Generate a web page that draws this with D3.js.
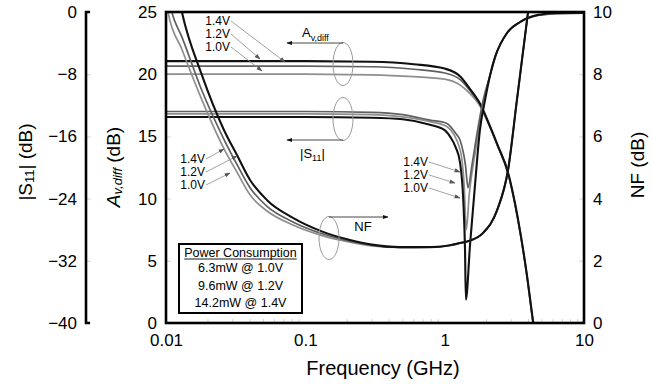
<!DOCTYPE html>
<html><head><meta charset="utf-8">
<script src="https://cdn.jsdelivr.net/npm/d3@7"></script>
<style>
body{margin:0;background:#fff}
svg{display:block}
text{font-family:"Liberation Sans",Arial,Helvetica,sans-serif;fill:#000}
</style>
</head><body>
<svg id="chart" width="652" height="384"></svg>
<script>
// ---- axis ticks and labels ----
const freqTicks = [0.01, 0.1, 1, 10];
const avTicks = [0, 5, 10, 15, 20, 25];
const s11Ticks = [0, -8, -16, -24, -32, -40];
const nfTicks = [0, 2, 4, 6, 8, 10];
const supplyLabels = ["1.4V", "1.2V", "1.0V"];
const powerTitle = "Power Consumption";
const powerRows = ["6.3mW @ 1.0V", "9.6mW @ 1.2V", "14.2mW @ 1.4V"];

// ---- differential voltage gain Av,diff [GHz, dB] ----
const av12 = [[0.01,21.05],[0.1,21.05],[0.3,21.0],[0.6,20.8],[1.0,20.45],[1.3,19.8],[1.5,18.9],[1.8,17.6],[2.1,15.9],[2.4,14.3],[2.85,12.1],[3.2,9.6],[3.5,7.2],[3.9,3.8],[4.3,0.2],[4.6,-2]];
const av14 = [[0.01,20.65],[0.1,20.65],[0.3,20.6],[0.6,20.4],[1.0,20.1],[1.3,19.55],[1.5,18.75],[1.8,17.55],[2.1,15.85],[2.4,14.25],[2.85,12.05],[3.2,9.55],[3.5,7.15],[3.9,3.75],[4.3,0.15],[4.6,-2]];
const av10 = [[0.01,20.0],[0.1,20.0],[0.3,19.95],[0.6,19.8],[1.0,19.6],[1.3,19.1],[1.5,18.5],[1.8,17.4],[2.1,15.8],[2.4,14.2],[2.85,12.0],[3.2,9.5],[3.5,7.1],[3.9,3.7],[4.3,0.1],[4.6,-2]];

// ---- input match |S11| [GHz, dB] ----
const s11_12 = [[0.01,-13.5],[0.1,-13.5],[0.3,-13.6],[0.5,-13.8],[0.785,-14.5],[1.0,-15.2],[1.1,-16.1],[1.2,-17.4],[1.29,-19.4],[1.36,-24.2],[1.40,-30.6],[1.42,-37],[1.52,-30],[1.65,-22.3],[1.79,-15.2],[1.95,-11.3],[2.12,-8.1],[2.3,-5.8],[2.8,-2.7],[3.47,-1.3],[4.6,-0.4],[6.4,-0.13],[10,-0.1]];
const s11_14 = [[0.01,-12.8],[0.1,-12.8],[0.3,-12.9],[0.5,-13.2],[0.785,-13.9],[1.03,-14.3],[1.2,-15.6],[1.29,-16.5],[1.41,-19.7],[1.47,-22.6],[1.57,-19.7],[1.70,-15.8],[1.89,-11.3],[2.12,-8.1],[2.3,-5.8],[2.8,-2.7],[3.47,-1.3],[4.6,-0.45],[6.4,-0.2],[10,-0.15]];
const s11_10 = [[0.01,-13.1],[0.1,-13.1],[0.3,-13.2],[0.5,-13.5],[0.785,-14.1],[1.03,-14.7],[1.29,-17.7],[1.38,-22.3],[1.43,-28],[1.50,-23.5],[1.67,-17.7],[1.89,-12],[2.12,-8.1],[2.3,-5.8],[2.8,-2.7],[3.47,-1.3],[4.6,-0.45],[6.4,-0.2],[10,-0.15]];

// ---- noise figure NF [GHz, dB] ----
const nf12 = [[0.0115,11.2],[0.013,10.0],[0.018,8.0],[0.0261,6.2],[0.0323,5.4],[0.0401,4.6],[0.0531,3.95],[0.0815,3.38],[0.134,2.93],[0.209,2.67],[0.3,2.52],[0.478,2.44],[0.785,2.44],[1.1,2.5],[1.29,2.57],[1.45,2.62],[1.88,2.89],[2.38,3.63],[2.85,4.92],[3.3,7.17],[3.96,9.97],[4.3,11.2]];
const nf14 = [[0.0100,10.9],[0.0110,10.0],[0.013,9.2],[0.018,7.5],[0.0261,5.9],[0.0323,5.1],[0.0401,4.35],[0.0531,3.75],[0.0815,3.25],[0.134,2.86],[0.209,2.63],[0.3,2.5],[0.478,2.43],[0.785,2.44],[1.1,2.5],[1.29,2.57],[1.45,2.62],[1.88,2.89],[2.38,3.63],[2.85,4.92],[3.3,7.17],[3.96,9.97],[4.3,11.2]];
const nf10 = [[0.0100,10.4],[0.01034,10.0],[0.013,8.8],[0.018,7.2],[0.0261,5.6],[0.0323,4.85],[0.0401,4.12],[0.0531,3.6],[0.0815,3.15],[0.134,2.8],[0.209,2.6],[0.3,2.48],[0.478,2.43],[0.785,2.44],[1.1,2.5],[1.29,2.57],[1.45,2.62],[1.88,2.89],[2.38,3.63],[2.85,4.92],[3.3,7.17],[3.96,9.97],[4.3,11.2]];

// ---- layout ----
const W = 652, H = 384;
const plot = {left: 166, right: 584, top: 12, bottom: 323};
const s11AxisX = 86;
const colors = {"1.2V": "#111", "1.4V": "#606060", "1.0V": "#8e8e8e"};

const svg = d3.select("#chart");

const x = d3.scaleLog().domain([0.01, 10]).range([plot.left, plot.right]);
const yAv = d3.scaleLinear().domain([0, 25]).range([plot.bottom, plot.top]);
const yS11 = d3.scaleLinear().domain([-40, 0]).range([plot.bottom, plot.top]);
const yNF = d3.scaleLinear().domain([0, 10]).range([plot.bottom, plot.top]);

// arrowhead markers
const defs = svg.append("defs");
defs.append("clipPath").attr("id", "plotClip").append("rect")
  .attr("x", plot.left).attr("y", plot.top)
  .attr("width", plot.right - plot.left).attr("height", plot.bottom - plot.top);
function marker(id, color, size) {
  defs.append("marker").attr("id", id)
    .attr("viewBox", "0 0 10 10").attr("refX", 9).attr("refY", 5)
    .attr("markerWidth", size).attr("markerHeight", size)
    .attr("markerUnits", "userSpaceOnUse").attr("orient", "auto")
    .append("path").attr("d", "M0,1.5 L10,5 L0,8.5 Z").attr("fill", color);
}
marker("arrGray", "#555", 6);
marker("arrBlack", "#111", 6);

// faint ticks (minor on the frequency axis)
const minor = [];
[0.01, 0.1, 1].forEach(d => { for (let k = 2; k <= 9; k++) minor.push(d * k); });
svg.append("g").selectAll("line").data(minor).join("line")
  .attr("x1", d => x(d)).attr("x2", d => x(d))
  .attr("y1", plot.bottom).attr("y2", plot.bottom - 4)
  .attr("stroke", "#d4d4d4").attr("stroke-width", 1);

// left Av axis
const gAv = svg.append("g").attr("transform", `translate(${plot.left},0)`)
  .call(d3.axisLeft(yAv).tickValues(avTicks).tickSize(-5).tickPadding(9));
// right NF axis
const gNF = svg.append("g").attr("transform", `translate(${plot.right},0)`)
  .call(d3.axisRight(yNF).tickValues(nfTicks).tickSize(-5).tickPadding(9));
// detached S11 axis
const gS11 = svg.append("g").attr("transform", `translate(${s11AxisX},0)`)
  .call(d3.axisLeft(yS11).tickValues(s11Ticks).tickSize(-5).tickPadding(9));
// frequency axis
const gX = svg.append("g").attr("transform", `translate(0,${plot.bottom})`)
  .call(d3.axisBottom(x).tickValues(freqTicks).tickFormat(d => String(d)).tickSize(0).tickPadding(11));

[gAv, gNF, gS11, gX].forEach(g => {
  g.select(".domain").remove();
  g.selectAll(".tick line").attr("stroke", "#d8d8d8").attr("stroke-width", 1);
  g.selectAll(".tick text").attr("font-size", 17).attr("fill", "#000")
    .attr("font-family", "'Liberation Sans', Arial, sans-serif");
});

// S11 axis spine with end caps
svg.append("path")
  .attr("d", `M${s11AxisX + 4},${plot.top} H${s11AxisX} V${plot.bottom} H${s11AxisX + 4}`)
  .attr("fill", "none").attr("stroke", "#000").attr("stroke-width", 2.6);

// curves
const lineOf = scaleY => d3.line()
  .x(d => x(d[0])).y(d => scaleY(d[1]))
  .curve(d3.curveMonotoneX);

const curves = [
  {data: av10, y: yAv, v: "1.0V"}, {data: av14, y: yAv, v: "1.4V"}, {data: av12, y: yAv, v: "1.2V"},
  {data: s11_10, y: yS11, v: "1.0V"}, {data: s11_14, y: yS11, v: "1.4V"}, {data: s11_12, y: yS11, v: "1.2V"},
  {data: nf10, y: yNF, v: "1.0V"}, {data: nf14, y: yNF, v: "1.4V"}, {data: nf12, y: yNF, v: "1.2V"}
];
const gCurves = svg.append("g").attr("clip-path", "url(#plotClip)");
gCurves.selectAll("path").data(curves).join("path")
  .attr("d", c => lineOf(c.y)(c.data))
  .attr("fill", "none")
  .attr("stroke", c => colors[c.v])
  .attr("stroke-width", c => c.v === "1.2V" ? 2.1 : 1.7)
  .attr("stroke-linejoin", "round");

// plot frame
svg.append("rect")
  .attr("x", plot.left).attr("y", plot.top)
  .attr("width", plot.right - plot.left).attr("height", plot.bottom - plot.top)
  .attr("fill", "none").attr("stroke", "#000").attr("stroke-width", 2.6);

// ---- annotations ----
const ann = svg.append("g");
function ellipse(cx, cy) {
  ann.append("ellipse").attr("cx", cx).attr("cy", cy).attr("rx", 10).attr("ry", 21.5)
    .attr("fill", "none").attr("stroke", "#9a9a9a").attr("stroke-width", 1);
}
function arrow(x1, y1, x2, y2, mk, color, w) {
  ann.append("line").attr("x1", x1).attr("y1", y1).attr("x2", x2).attr("y2", y2)
    .attr("stroke", color).attr("stroke-width", w).attr("marker-end", `url(#${mk})`);
}

// Av,diff group
ellipse(343, 64);
arrow(343, 43, 287, 43, "arrBlack", "#333", 0.9);
const tAv = ann.append("text").attr("x", 302).attr("y", 37).attr("font-size", 13).attr("fill", "#222");
tAv.append("tspan").text("A");
tAv.append("tspan").attr("font-size", 9).attr("dy", 4).text("v,diff");

// S11 group
ellipse(343, 119);
arrow(343, 140, 287, 140, "arrBlack", "#333", 0.9);
const tS = ann.append("text").attr("x", 300).attr("y", 158).attr("font-size", 13).attr("fill", "#222");
tS.append("tspan").text("|S");
tS.append("tspan").attr("font-size", 9).attr("dy", 3).text("11");
tS.append("tspan").attr("dy", -3).text("|");

// NF group
ellipse(329, 238);
arrow(329, 217, 388, 217, "arrBlack", "#333", 0.9);
ann.append("text").attr("x", 363).attr("y", 231).attr("text-anchor", "middle")
  .attr("font-size", 13).attr("fill", "#222").text("NF");

// supply-voltage callouts: label anchor (right end) and arrow tip
const calloutSets = [
  {labels: [[230, 25], [230, 38], [230, 51]], tips: [[285, 62], [260, 59], [262, 71]]},
  {labels: [[205, 163], [205, 176], [205, 189]], tips: [[224, 149], [237, 156], [230, 173]]},
  {labels: [[428, 166], [428, 179], [428, 192]], tips: [[460, 172], [455, 183], [460, 198]]}
];
calloutSets.forEach(set => {
  set.labels.forEach((p, i) => {
    ann.append("text").attr("x", p[0]).attr("y", p[1]).attr("text-anchor", "end")
      .attr("font-size", 12).attr("fill", "#666").text(supplyLabels[i]);
    arrow(p[0] + 1, p[1] - 4, set.tips[i][0], set.tips[i][1], "arrGray", "#8a8a8a", 0.8);
  });
});

// power consumption box
const box = svg.append("g");
box.append("rect").attr("x", 179).attr("y", 244).attr("width", 123).attr("height", 69)
  .attr("fill", "#fff").attr("stroke", "#000").attr("stroke-width", 2);
const titleText = box.append("text").attr("x", 240.5).attr("y", 256.5).attr("text-anchor", "middle")
  .attr("font-size", 12.5).text(powerTitle);
const tw = titleText.node().getComputedTextLength();
box.append("line").attr("x1", 240.5 - tw / 2).attr("x2", 240.5 + tw / 2)
  .attr("y1", 259).attr("y2", 259).attr("stroke", "#000").attr("stroke-width", 0.9);
box.selectAll("text.row").data(powerRows).join("text").attr("class", "row")
  .attr("x", 240.5).attr("y", (d, i) => 272 + i * 17.5).attr("text-anchor", "middle")
  .attr("font-size", 12.5).text(d => d);

// ---- axis titles ----
svg.append("text").attr("x", 383).attr("y", 375).attr("text-anchor", "middle")
  .attr("font-size", 20).text("Frequency (GHz)");

const tS11 = svg.append("text").attr("transform", "translate(25,162) rotate(-90)")
  .attr("text-anchor", "middle").attr("dominant-baseline", "central").attr("font-size", 19);
tS11.append("tspan").text("|S");
tS11.append("tspan").attr("font-size", 13).attr("dy", 4).text("11");
tS11.append("tspan").attr("dy", -4).text("| (dB)");

const tAvAxis = svg.append("text").attr("transform", "translate(113,167) rotate(-90)")
  .attr("text-anchor", "middle").attr("dominant-baseline", "central").attr("font-size", 19);
tAvAxis.append("tspan").attr("font-style", "italic").text("A");
tAvAxis.append("tspan").attr("font-style", "italic").attr("font-size", 13).attr("dy", 4).text("v,diff");
tAvAxis.append("tspan").attr("dy", -4).text(" (dB)");

svg.append("text").attr("transform", "translate(637,165) rotate(-90)")
  .attr("text-anchor", "middle").attr("dominant-baseline", "central").attr("font-size", 19)
  .text("NF (dB)");
</script>
</body></html>
